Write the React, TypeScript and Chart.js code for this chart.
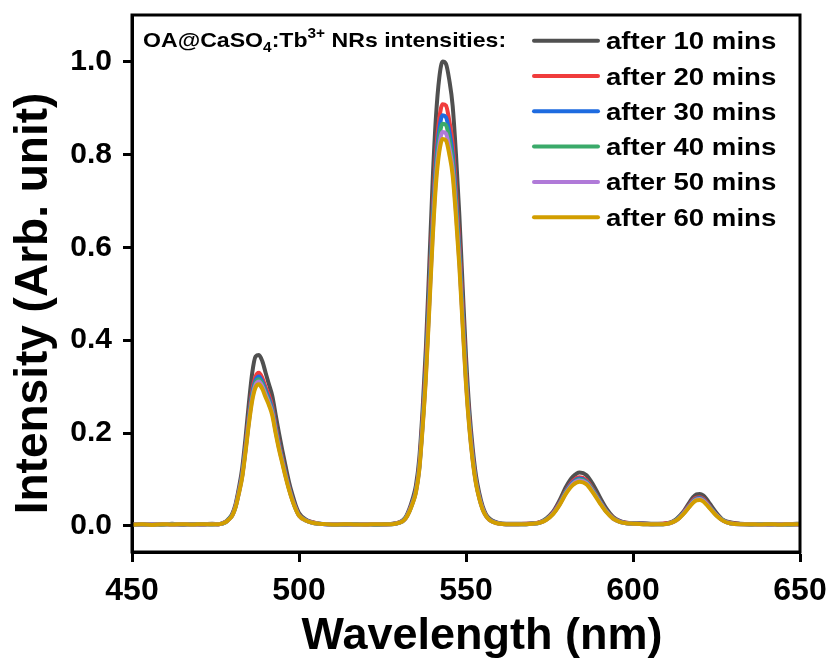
import React, { useEffect, useRef } from 'react';
import { Chart, registerables } from 'chart.js';

Chart.register(...registerables);

const FAMILY = "'Liberation Sans', Arial, Helvetica, sans-serif";

const WAVELENGTH = [
  450, 453, 456, 459, 462, 465, 468, 471, 474,
  476, 478, 479, 480, 481, 482, 483, 484, 485, 486, 487, 488, 489, 490, 491, 492, 493, 494, 495, 496, 497, 498, 499, 500, 502, 504, 506, 508,
  511, 514, 517, 520, 523, 526,
  528, 530, 531, 532, 533, 534, 535, 536, 537, 538, 539, 540, 541, 542, 543, 544, 545, 546, 547, 548, 549, 550, 551, 552, 553, 554, 555, 556, 557, 558, 560,
  562, 565, 568, 570,
  572, 574, 576, 578, 580, 582, 584, 586, 588, 590, 592, 594, 596, 598, 600,
  603, 606, 609, 611, 613, 615, 617, 618, 619, 620, 621, 622, 623, 625, 627, 629, 632,
  635, 638, 641, 644, 647, 650,
];

const SERIES_LABELS = ['after 10 mins', 'after 20 mins', 'after 30 mins', 'after 40 mins', 'after 50 mins', 'after 60 mins'];
const SERIES_COLORS = ['#505050', '#f03c3c', '#1e6be0', '#3aaa6a', '#b07ad8', '#d29e00'];

const AFTER_10 = [
  0.004, 0.003, 0.004, 0.003, 0.005, 0.003, 0.004, 0.004, 0.005,
  0.004, 0.009, 0.016, 0.026, 0.047, 0.082, 0.125, 0.19, 0.265, 0.33, 0.365, 0.368, 0.355, 0.33, 0.305, 0.28, 0.24, 0.2, 0.163, 0.128, 0.095, 0.068, 0.045, 0.028, 0.014, 0.008, 0.005, 0.004,
  0.004, 0.003, 0.004, 0.004, 0.003, 0.004,
  0.005, 0.008, 0.012, 0.02, 0.036, 0.058, 0.087, 0.145, 0.25, 0.385, 0.56, 0.74, 0.88, 0.965, 1.0, 0.995, 0.96, 0.905, 0.8, 0.67, 0.515, 0.365, 0.25, 0.168, 0.108, 0.07, 0.042, 0.025, 0.016, 0.011, 0.006,
  0.005, 0.005, 0.005, 0.006,
  0.008, 0.016, 0.03, 0.055, 0.085, 0.106, 0.115, 0.11, 0.09, 0.063, 0.038, 0.02, 0.011, 0.007, 0.006,
  0.006, 0.005, 0.005, 0.007, 0.015, 0.03, 0.052, 0.062, 0.068, 0.069, 0.066, 0.058, 0.048, 0.028, 0.013, 0.008, 0.005,
  0.004, 0.004, 0.003, 0.004, 0.004, 0.005,
];

const AFTER_20 = [
  0.003, 0.004, 0.003, 0.004, 0.003, 0.003, 0.004, 0.003, 0.004,
  0.004, 0.009, 0.015, 0.024, 0.043, 0.076, 0.113, 0.173, 0.238, 0.292, 0.322, 0.33, 0.319, 0.299, 0.281, 0.257, 0.216, 0.178, 0.146, 0.113, 0.084, 0.059, 0.039, 0.024, 0.013, 0.008, 0.005, 0.004,
  0.003, 0.004, 0.004, 0.003, 0.004, 0.003,
  0.004, 0.008, 0.011, 0.018, 0.033, 0.052, 0.078, 0.13, 0.23, 0.35, 0.507, 0.67, 0.8, 0.877, 0.908, 0.905, 0.872, 0.823, 0.725, 0.61, 0.469, 0.332, 0.229, 0.153, 0.098, 0.063, 0.038, 0.023, 0.014, 0.01, 0.005,
  0.004, 0.004, 0.005, 0.005,
  0.008, 0.014, 0.028, 0.05, 0.077, 0.097, 0.105, 0.099, 0.079, 0.055, 0.033, 0.018, 0.01, 0.007, 0.005,
  0.005, 0.004, 0.005, 0.007, 0.013, 0.028, 0.047, 0.056, 0.061, 0.062, 0.059, 0.051, 0.042, 0.024, 0.012, 0.007, 0.004,
  0.003, 0.004, 0.004, 0.003, 0.004, 0.003,
];

const AFTER_30 = [
  0.004, 0.003, 0.003, 0.004, 0.004, 0.003, 0.004, 0.003, 0.004,
  0.004, 0.008, 0.015, 0.023, 0.042, 0.074, 0.111, 0.169, 0.232, 0.285, 0.314, 0.322, 0.311, 0.292, 0.274, 0.251, 0.211, 0.174, 0.142, 0.111, 0.082, 0.058, 0.038, 0.023, 0.013, 0.007, 0.005, 0.004,
  0.004, 0.003, 0.003, 0.004, 0.003, 0.004,
  0.004, 0.007, 0.011, 0.018, 0.032, 0.051, 0.076, 0.127, 0.223, 0.34, 0.493, 0.652, 0.78, 0.854, 0.884, 0.88, 0.849, 0.801, 0.706, 0.594, 0.456, 0.324, 0.223, 0.149, 0.095, 0.062, 0.037, 0.022, 0.014, 0.01, 0.005,
  0.004, 0.004, 0.004, 0.005,
  0.007, 0.014, 0.027, 0.048, 0.075, 0.094, 0.102, 0.096, 0.077, 0.054, 0.032, 0.017, 0.01, 0.006, 0.005,
  0.005, 0.004, 0.004, 0.006, 0.013, 0.027, 0.045, 0.054, 0.059, 0.06, 0.057, 0.049, 0.041, 0.024, 0.012, 0.006, 0.004,
  0.004, 0.004, 0.003, 0.004, 0.003, 0.004,
];

const AFTER_40 = [
  0.003, 0.003, 0.004, 0.003, 0.004, 0.004, 0.003, 0.004, 0.003,
  0.004, 0.008, 0.015, 0.023, 0.041, 0.073, 0.109, 0.166, 0.228, 0.28, 0.309, 0.316, 0.306, 0.287, 0.269, 0.247, 0.207, 0.171, 0.14, 0.109, 0.081, 0.057, 0.037, 0.023, 0.012, 0.007, 0.005, 0.004,
  0.003, 0.003, 0.004, 0.004, 0.003, 0.003,
  0.004, 0.007, 0.01, 0.018, 0.031, 0.05, 0.075, 0.125, 0.218, 0.333, 0.484, 0.64, 0.764, 0.837, 0.866, 0.863, 0.832, 0.785, 0.692, 0.582, 0.447, 0.317, 0.218, 0.146, 0.094, 0.06, 0.036, 0.022, 0.014, 0.009, 0.005,
  0.004, 0.004, 0.004, 0.005,
  0.007, 0.014, 0.026, 0.047, 0.074, 0.092, 0.1, 0.095, 0.076, 0.053, 0.032, 0.017, 0.009, 0.006, 0.005,
  0.004, 0.004, 0.004, 0.006, 0.013, 0.026, 0.044, 0.053, 0.058, 0.059, 0.056, 0.048, 0.04, 0.023, 0.012, 0.006, 0.004,
  0.003, 0.004, 0.004, 0.003, 0.003, 0.004,
];

const AFTER_50 = [
  0.004, 0.003, 0.004, 0.004, 0.003, 0.004, 0.003, 0.003, 0.004,
  0.004, 0.008, 0.014, 0.022, 0.041, 0.071, 0.107, 0.163, 0.224, 0.275, 0.304, 0.311, 0.301, 0.283, 0.265, 0.243, 0.204, 0.168, 0.138, 0.107, 0.08, 0.056, 0.037, 0.022, 0.012, 0.007, 0.005, 0.004,
  0.004, 0.003, 0.003, 0.004, 0.004, 0.003,
  0.004, 0.007, 0.01, 0.017, 0.031, 0.049, 0.073, 0.122, 0.214, 0.326, 0.473, 0.626, 0.748, 0.819, 0.848, 0.845, 0.814, 0.769, 0.677, 0.57, 0.438, 0.31, 0.214, 0.143, 0.092, 0.059, 0.036, 0.021, 0.013, 0.009, 0.005,
  0.004, 0.004, 0.004, 0.005,
  0.007, 0.013, 0.026, 0.046, 0.072, 0.091, 0.098, 0.093, 0.074, 0.052, 0.031, 0.016, 0.009, 0.006, 0.005,
  0.004, 0.004, 0.004, 0.006, 0.012, 0.026, 0.043, 0.052, 0.057, 0.058, 0.055, 0.048, 0.039, 0.023, 0.011, 0.006, 0.004,
  0.004, 0.003, 0.003, 0.004, 0.004, 0.003,
];

const AFTER_60 = [
  0.003, 0.004, 0.002, 0.004, 0.003, 0.004, 0.003, 0.004, 0.004,
  0.004, 0.008, 0.014, 0.022, 0.04, 0.07, 0.105, 0.16, 0.22, 0.27, 0.298, 0.305, 0.295, 0.277, 0.26, 0.238, 0.2, 0.165, 0.135, 0.105, 0.078, 0.055, 0.036, 0.022, 0.012, 0.007, 0.005, 0.004,
  0.003, 0.004, 0.003, 0.003, 0.004, 0.004,
  0.004, 0.007, 0.01, 0.017, 0.03, 0.048, 0.072, 0.12, 0.21, 0.32, 0.465, 0.615, 0.735, 0.805, 0.833, 0.83, 0.8, 0.755, 0.665, 0.56, 0.43, 0.305, 0.21, 0.14, 0.09, 0.058, 0.035, 0.021, 0.013, 0.009, 0.005,
  0.004, 0.004, 0.004, 0.005,
  0.007, 0.013, 0.025, 0.045, 0.07, 0.088, 0.095, 0.09, 0.072, 0.05, 0.03, 0.016, 0.009, 0.006, 0.005,
  0.004, 0.004, 0.004, 0.006, 0.012, 0.025, 0.042, 0.05, 0.055, 0.056, 0.053, 0.046, 0.038, 0.022, 0.011, 0.006, 0.004,
  0.004, 0.003, 0.004, 0.003, 0.004, 0.004,
];

const SERIES_VALUES = [AFTER_10, AFTER_20, AFTER_30, AFTER_40, AFTER_50, AFTER_60];

const X_TICKS = [450, 500, 550, 600, 650];
const Y_TICKS = [0, 0.2, 0.4, 0.6, 0.8, 1.0];
const X_TITLE = 'Wavelength (nm)';
const Y_TITLE = 'Intensity (Arb. unit)';
const NOTE_PARTS = [
  { text: 'OA@CaSO', kind: 'normal' },
  { text: '4', kind: 'sub' },
  { text: ':Tb', kind: 'normal' },
  { text: '3+', kind: 'sup' },
  { text: ' NRs intensities:', kind: 'normal' },
];

function drawText(ctx: CanvasRenderingContext2D, text: string, x: number, y: number, size: number, sx: number) {
  ctx.save();
  ctx.translate(x, y);
  ctx.scale(sx, 1);
  ctx.font = `bold ${size}px ${FAMILY}`;
  ctx.fillText(text, 0, 0);
  const w = ctx.measureText(text).width * sx;
  ctx.restore();
  return w;
}

const decorPlugin = {
  id: 'decor',
  afterDraw(chart: any) {
    const { ctx, chartArea: ca } = chart;
    ctx.save();
    // frame
    ctx.strokeStyle = '#000';
    ctx.lineWidth = 3;
    ctx.strokeRect(ca.left, ca.top, ca.right - ca.left, ca.bottom - ca.top);

    ctx.fillStyle = '#000';
    ctx.textAlign = 'left';
    ctx.textBaseline = 'alphabetic';

    // legend
    chart.data.datasets.forEach((d: any, i: number) => {
      const y = ca.top + 25.7 + i * 35.3;
      ctx.strokeStyle = d.borderColor;
      ctx.lineWidth = 4;
      ctx.lineCap = 'round';
      ctx.beginPath();
      ctx.moveTo(ca.right - 266, y);
      ctx.lineTo(ca.right - 202, y);
      ctx.stroke();
      ctx.fillStyle = '#000';
      drawText(ctx, d.label, ca.right - 194, y + 8.5, 23, 1.2);
    });

    // annotation
    let x = ca.left + 11;
    const base = ca.top + 32;
    NOTE_PARTS.forEach((p) => {
      if (p.kind === 'sub') x += drawText(ctx, p.text, x, base + 5, 14, 1.1);
      else if (p.kind === 'sup') x += drawText(ctx, p.text, x, base - 9, 14, 1.1);
      else x += drawText(ctx, p.text, x, base, 21, 1.1);
    });

    // axis titles
    ctx.font = `bold 45px ${FAMILY}`;
    ctx.textAlign = 'center';
    ctx.fillText(X_TITLE, (ca.left + ca.right) / 2 + 16, ca.bottom + 97);
    ctx.save();
    ctx.translate(ca.left - 85, (ca.top + ca.bottom) / 2 + 20);
    ctx.rotate(-Math.PI / 2);
    ctx.font = `bold 46px ${FAMILY}`;
    ctx.fillText(Y_TITLE, 0, 0);
    ctx.restore();
    ctx.restore();
  },
};

export default function App() {
  const canvasRef = useRef<HTMLCanvasElement | null>(null);

  useEffect(() => {
    const canvas = canvasRef.current;
    if (!canvas) return;
    const datasets = SERIES_LABELS.map((label, i) => ({
      label,
      data: WAVELENGTH.map((w, j) => ({ x: w, y: SERIES_VALUES[i][j] })),
      borderColor: SERIES_COLORS[i],
      backgroundColor: SERIES_COLORS[i],
      borderWidth: 4,
      pointRadius: 0,
      fill: false,
      cubicInterpolationMode: 'monotone' as const,
      order: SERIES_LABELS.length - i,
    }));
    const tickFontX = { family: FAMILY, size: 32, weight: 'bold' as const };
    const tickFontY = { family: FAMILY, size: 30, weight: 'bold' as const };
    const chart = new Chart(canvas, {
      type: 'line',
      data: { datasets },
      options: {
        animation: false,
        responsive: false,
        devicePixelRatio: 1,
        layout: { padding: { top: 15, right: 31, left: 0, bottom: 0 } },
        plugins: { legend: { display: false }, tooltip: { enabled: false } },
        scales: {
          x: {
            type: 'linear',
            min: 450,
            max: 650,
            afterBuildTicks: (s: any) => { s.ticks = X_TICKS.map((v) => ({ value: v })); },
            afterFit: (s: any) => { s.height = 108; s.paddingLeft = 0; s.paddingRight = 0; },
            grid: { drawOnChartArea: false, drawTicks: true, tickLength: 10, tickWidth: 3, tickColor: '#000' },
            border: { display: true, color: '#000', width: 3 },
            ticks: { font: tickFontX, color: '#000', padding: 10, maxRotation: 0, autoSkip: false, callback: (v: any) => String(v) },
          },
          y: {
            type: 'linear',
            min: -0.056,
            max: 1.1,
            afterBuildTicks: (s: any) => { s.ticks = Y_TICKS.map((v) => ({ value: v })); },
            afterFit: (s: any) => { s.width = 132; s.paddingTop = 0; s.paddingBottom = 0; },
            grid: { drawOnChartArea: false, drawTicks: true, tickLength: 9, tickWidth: 3, tickColor: '#000' },
            border: { display: true, color: '#000', width: 3 },
            ticks: { font: tickFontY, color: '#000', padding: 11, autoSkip: false, callback: (v: any) => Number(v).toFixed(1) },
          },
        },
      },
      plugins: [decorPlugin],
    });
    return () => chart.destroy();
  }, []);

  return (
    <div style={{ position: 'absolute', left: 0, top: 0, width: 831, height: 660, background: '#fff' }}>
      <canvas ref={canvasRef} width={831} height={660} style={{ width: 831, height: 660, display: 'block' }} />
    </div>
  );
}
